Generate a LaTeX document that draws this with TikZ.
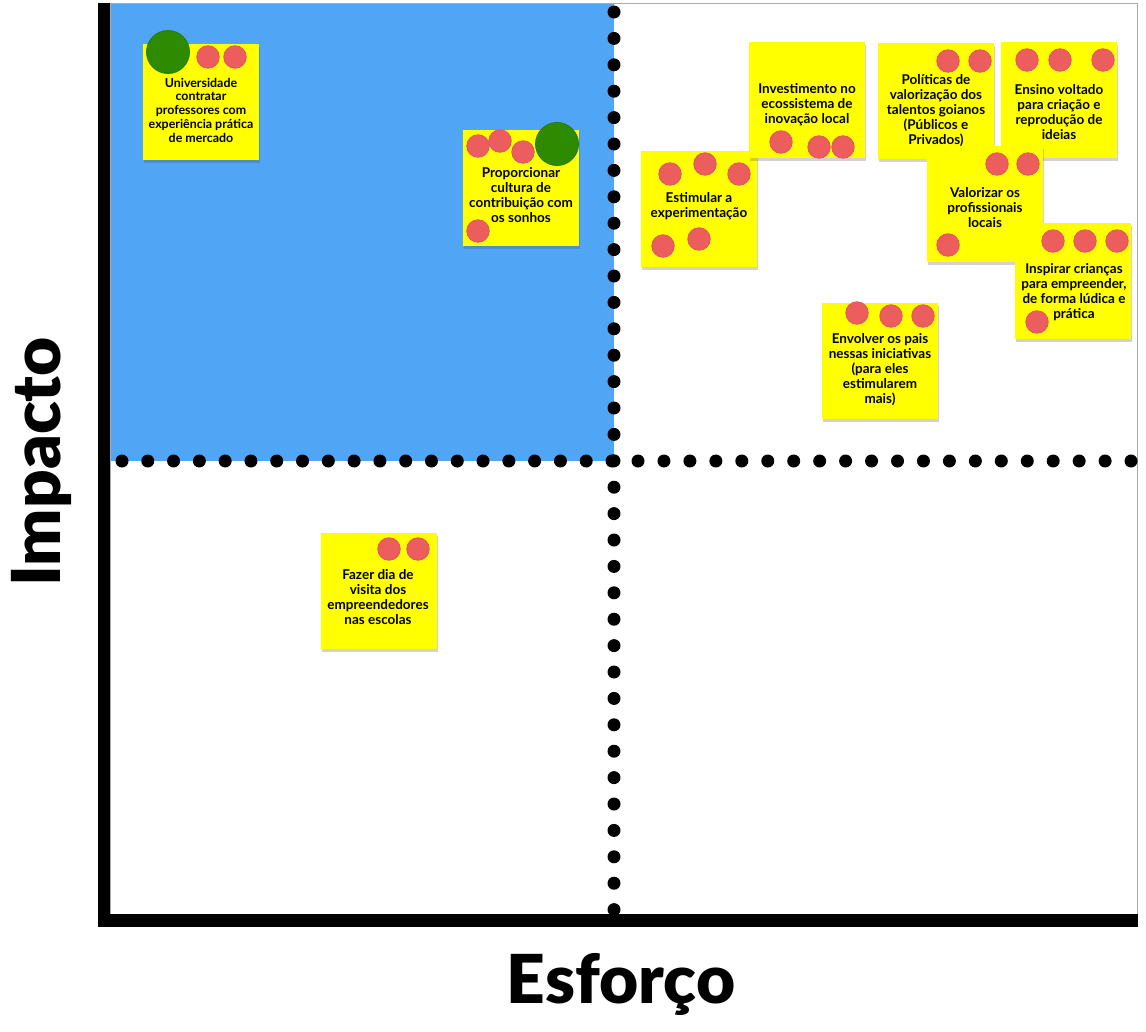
\documentclass[tikz,border=0pt]{standalone}
\usepackage{fontspec}
\setmainfont{Lato}
\newfontfamily\heavyfont{Lato Black}
\usetikzlibrary{shadows}
\definecolor{quadblue}{RGB}{80,166,245}
\definecolor{stickyyellow}{RGB}{255,255,0}
\definecolor{dotred}{RGB}{236,94,94}
\definecolor{dotredborder}{RGB}{226,84,100}
\definecolor{vgreen}{RGB}{46,138,0}
\definecolor{vgreenborder}{RGB}{38,120,8}
\definecolor{framegray}{RGB}{170,170,170}
\begin{document}
\begin{tikzpicture}[x=1pt,y=-1pt,
  sticky/.style={fill=stickyyellow, minimum width=116pt, minimum height=116pt,
    inner sep=0pt, outer sep=0pt, anchor=north west,
    drop shadow={shadow xshift=0.5pt, shadow yshift=-2.5pt, opacity=0.25, fill=black!70}},
  note/.style={font=\bfseries\fontsize{13.5}{15}\selectfont, align=center, inner sep=0pt, text=black},
  smallnote/.style={note, font=\bfseries\fontsize{12.4}{13.75}\selectfont},
  reddot/.style={circle, fill=dotred, draw=dotredborder, line width=0.8pt, minimum size=22.5pt, inner sep=0pt},
  greendot/.style={circle, fill=vgreen, draw=vgreenborder, line width=0.8pt, minimum size=43pt, inner sep=0pt},
  axisline/.style={line width=12.5pt, line join=miter, line cap=butt, black},
  gridpoint/.style={fill=black},
  axislabel/.style={font=\heavyfont\fontsize{67.5}{72}\selectfont, inner sep=0pt}
]
% canvas
\path[fill=white] (0,0) rectangle (1146,1031);
\useasboundingbox (0,0) rectangle (1146,1031);

% quadrant and frame
\fill[quadblue] (110,3) rectangle (614,461);
\draw[framegray, line width=0.8pt] (110,3) rectangle (1137,914);

% dotted dividers
\foreach \k in {0,...,34} \fill[gridpoint] (614,12+26.4*\k) circle (6.5);
\foreach \k in {0,...,19} \fill[gridpoint] (122+25.79*\k,461) circle (6.5);
\foreach \k in {0,...,19} \fill[gridpoint] (638+25.95*\k,461) circle (6.5);

% axes
\coordinate (ytop) at (104,3);
\coordinate (origin) at (104,920.5);
\coordinate (xend) at (1138,920.5);
\draw[axisline] (ytop) -- (origin) -- (xend);

\node[axislabel, anchor=base] (xlabel) at (621,1003) {Esforço};
\node[axislabel, anchor=base, rotate=90] (ylabel) at (60,462) {Impacto};

% sticky 1
\node[sticky] (s1) at (143,44) {};
\node[smallnote] (t1) at (201,110) {Universidade\\contratar\\professores com\\experiência prática\\de mercado};
\node[greendot] (s1g) at (168,52) {};
\node[reddot] (s1a) at (208,57) {};
\node[reddot] (s1b) at (235,57) {};

% sticky 2
\node[sticky] (s2) at (463,130) {};
\node[note] (t2) at (521,195.5) {Proporcionar\\cultura de\\contribuição com\\os sonhos};
\node[reddot] (s2a) at (478,146) {};
\node[reddot] (s2b) at (500,141) {};
\node[reddot] (s2c) at (523,152) {};
\node[reddot] (s2d) at (478,231) {};
\node[greendot] (s2g) at (557,144) {};

% sticky 3
\node[sticky] (s3) at (641,151) {};
\node[note] (t3) at (699,206) {Estimular a\\experimentação};
\node[reddot] (s3a) at (670,174) {};
\node[reddot] (s3b) at (705,164) {};
\node[reddot] (s3c) at (739,174) {};
\node[reddot] (s3d) at (663,246) {};
\node[reddot] (s3e) at (699,239) {};

% sticky 4
\node[sticky] (s4) at (749,42) {};
\node[note] (t4) at (807,104.5) {Investimento no\\ecossistema de\\inovação local};
\node[reddot] (s4a) at (781,142) {};
\node[reddot] (s4b) at (819,147) {};
\node[reddot] (s4c) at (843,147) {};

% sticky 5
\node[sticky] (s5) at (878,43) {};
\node[note] (t5) at (936,110.5) {Políticas de\\valorização dos\\talentos goianos\\(Públicos e\\Privados)};
\node[reddot] (s5a) at (948,61) {};
\node[reddot] (s5b) at (980,61) {};

% sticky 6
\node[sticky] (s6) at (1001,42) {};
\node[note] (t6) at (1059,112) {Ensino voltado\\para criação e\\reprodução de\\ideias};
\node[reddot] (s6a) at (1027,60) {};
\node[reddot] (s6b) at (1060,60) {};
\node[reddot] (s6c) at (1103,60) {};

% sticky 7
\node[sticky] (s7) at (927,146) {};
\node[note] (t7) at (985,208) {Valorizar os\\profissionais\\locais};
\node[reddot] (s7a) at (997,164) {};
\node[reddot] (s7b) at (1028,164) {};
\node[reddot] (s7c) at (948,245) {};

% sticky 8
\node[sticky] (s8) at (1015,223) {};
\node[note] (t8) at (1074,292.5) {Inspirar crianças\\para empreender,\\de forma lúdica e\\prática};
\node[reddot] (s8a) at (1053,241) {};
\node[reddot] (s8b) at (1085,241) {};
\node[reddot] (s8c) at (1117,241) {};
\node[reddot] (s8d) at (1037,322) {};

% sticky 9
\node[sticky] (s9) at (822,303) {};
\node[note] (t9) at (880,369.5) {Envolver os pais\\nessas iniciativas\\(para eles\\estimularem\\mais)};
\node[reddot] (s9a) at (857,313) {};
\node[reddot] (s9b) at (891,316) {};
\node[reddot] (s9c) at (923,316) {};

% sticky 10
\node[sticky] (s10) at (321,533) {};
\node[note] (t10) at (378,597.5) {Fazer dia de\\visita dos\\empreendedores\\nas escolas};
\node[reddot] (s10a) at (389,549) {};
\node[reddot] (s10b) at (418,549) {};
\end{tikzpicture}
\end{document}
